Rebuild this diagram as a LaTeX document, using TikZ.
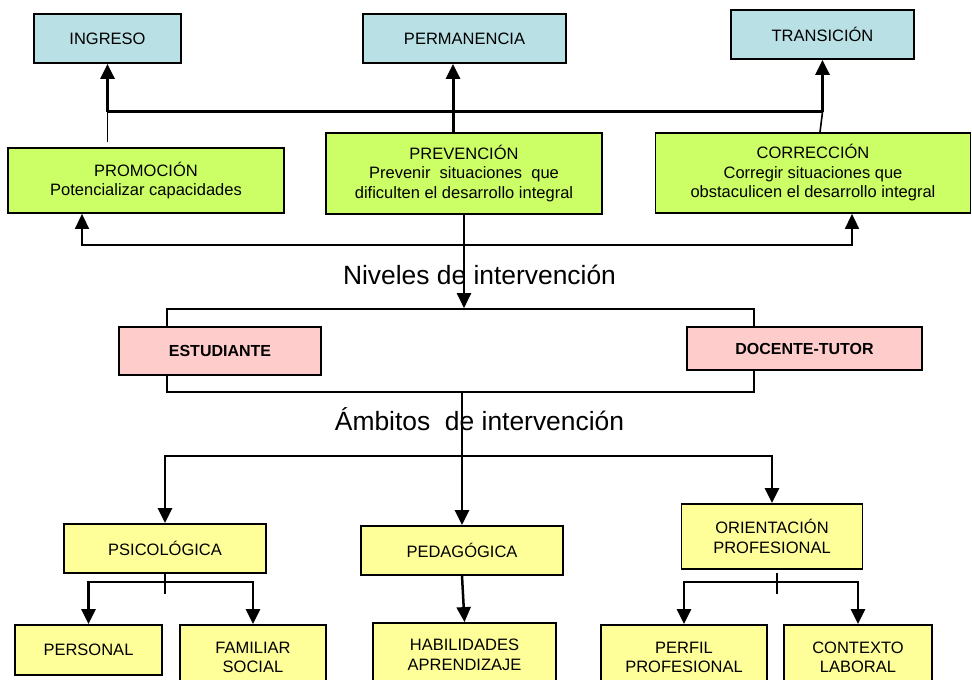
\documentclass[tikz,border=0pt]{standalone}
\usepackage{fontspec}
\setmainfont{Liberation Sans}
\usetikzlibrary{arrows.meta}
\definecolor{celeste}{HTML}{B9E0E4}
\definecolor{verde}{HTML}{CCFF66}
\definecolor{rosa}{HTML}{FFCCCC}
\definecolor{amarillo}{HTML}{FFFF99}

\begin{document}
\begin{tikzpicture}[line join=miter,>={Triangle[length=15pt,width=14pt]},x=1pt,y=1pt,
  caja/.style={draw,line width=1.8pt,inner sep=0pt,align=center,font=\fontsize{16.5}{19.5}\selectfont},
  nivel/.style={caja,fill=celeste},
  accion/.style={caja,fill=verde},
  actor/.style={caja,fill=rosa,font=\fontsize{16}{19}\selectfont\bfseries},
  area/.style={caja,fill=amarillo},
  titulo/.style={font=\fontsize{26.4}{30}\selectfont},
  grueso/.style={line width=3pt},
  medio/.style={line width=2.5pt},
  fino/.style={line width=1.6pt}]
\useasboundingbox (0,0) rectangle (972,680);

%momentos
\node [nivel,minimum width=147,minimum height=49] (ingreso) at (107.5,641.5) {INGRESO};
\node [nivel,minimum width=203,minimum height=49] (perm) at (464.5,641.5) {PERMANENCIA};
\node [nivel,minimum width=183,minimum height=49] (trans) at (822.5,645.5) {TRANSICIÓN};

%niveles
\node [accion,minimum width=276,minimum height=65] (promo) at (146,499.5)
  {PROMOCIÓN\\Potencializar capacidades};
\node [accion,minimum width=276,minimum height=81] (prev) at (464,506.5)
  {PREVENCIÓN\\Prevenir~~situaciones~~que\\dificulten el desarrollo integral};
\node [accion,minimum width=315,minimum height=80] (corr) at (813,507)
  {CORRECCIÓN\\Corregir situaciones que\\obstaculicen el desarrollo integral};

%flechas hacia arriba
\coordinate (barra) at (0,568);
\draw[fino] ([yshift=5pt]ingreso.south |- promo.north) -- (ingreso.south |- barra);
\draw[grueso] (ingreso.south |- barra) -- (trans.south |- barra);
\draw[grueso,->] (ingreso.south |- barra) -- (ingreso.south);
\draw[grueso,->] ([xshift=-11pt]prev.north) -- ([xshift=-11pt]prev.north |- perm.south);
\draw[fino] ([xshift=7pt]corr.north) -- (trans.south |- barra);
\draw[grueso,->] (trans.south |- barra) -- (trans.south);

%retorno
\coordinate (retorno) at (0,435);
\draw[fino,<->] ([xshift=-64pt]promo.south) -- ([xshift=-64pt]promo.south |- retorno)
  -- ([xshift=39pt]corr.south |- retorno) -- ([xshift=39pt]corr.south);

\node [titulo] (niveles) at (479.5,405) {Niveles de intervención};

%actores
\node [draw,fino,inner sep=0pt,minimum width=587,minimum height=83] (marco) at (460.5,329.5) {};
\node [actor,minimum width=202,minimum height=48] (estud) at (220,329) {ESTUDIANTE};
\node [actor,minimum width=235,minimum height=43] (doc) at (804.5,331.5) {DOCENTE-TUTOR};
\draw[line width=2pt,->] (prev.south) -- (prev.south |- marco.north);

\node [titulo] (ambitos) at (479.5,261) {Ámbitos~~de intervención};

%ambitos
\node [area,minimum width=202,minimum height=49] (psi) at (165,131.5) {PSICOLÓGICA};
\node [area,minimum width=202,minimum height=49] (ped) at (462,129.5) {PEDAGÓGICA};
\node [area,minimum width=181,minimum height=65] (ori) at (772,143.5) {ORIENTACIÓN\\PROFESIONAL};
\draw[line width=2pt] (marco.south -| ped.north) -- (ped.north |- 0,224);
\draw[medio,->] (ped.north |- 0,224) -- (ped.north);
\coordinate (ramas) at (462,224);
\draw[medio,->] (ramas) -| (psi.north);
\draw[medio,->] (ramas) -| (ori.north);

%subareas
\node [area,minimum width=147,minimum height=50] (per) at (88.5,30) {PERSONAL};
\node [area,minimum width=146,minimum height=65] (fam) at (253,22.5) {FAMILIAR\\SOCIAL};
\node [area,minimum width=183,minimum height=64] (hab) at (464.5,25) {HABILIDADES\\APRENDIZAJE};
\node [area,minimum width=166,minimum height=65] (perfil) at (684,22.5) {PERFIL\\PROFESIONAL};
\node [area,minimum width=148,minimum height=65] (ctx) at (858,22.5) {CONTEXTO\\LABORAL};

\draw[fino] (psi.south) -- ++(0,-20);
\coordinate (psiramas) at ([yshift=-8pt]psi.south);
\draw[medio,->] (psiramas) -| (per.north);
\draw[medio,->] (psiramas) -| (fam.north);
\draw[medio,->] (ped.south) -- (hab.north);
\draw[fino] ([shift={(5,-3)}]ori.south) -- ++(0,-21);
\coordinate (oriramas) at ([yshift=-12pt]ori.south);
\draw[medio,->] (oriramas) -| (perfil.north);
\draw[medio,->] (oriramas) -| (ctx.north);
\end{tikzpicture}
\end{document}
